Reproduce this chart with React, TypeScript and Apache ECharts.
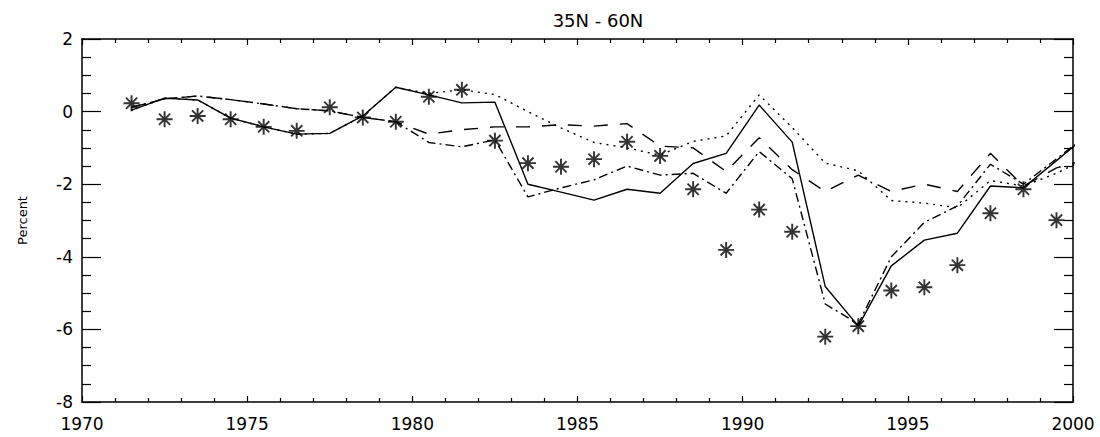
import React, { useEffect, useRef } from "react";
import * as echarts from "echarts";

// Observation years (mid-year) and observed percent anomalies (asterisks)
const obsYears = [
  1971.5, 1972.5, 1973.5, 1974.5, 1975.5, 1976.5, 1977.5, 1978.5, 1979.5, 1980.5,
  1981.5, 1982.5, 1983.5, 1984.5, 1985.5, 1986.5, 1987.5, 1988.5, 1989.5, 1990.5,
  1991.5, 1992.5, 1993.5, 1994.5, 1995.5, 1996.5, 1997.5, 1998.5, 1999.5,
];
const observed = [
  0.23, -0.21, -0.12, -0.21, -0.42, -0.53, 0.12, -0.16, -0.28, 0.41,
  0.6, -0.8, -1.42, -1.52, -1.31, -0.83, -1.22, -2.14, -3.81, -2.7,
  -3.31, -6.2, -5.91, -4.93, -4.84, -4.23, -2.8, -2.14, -2.99,
];

// Model years (mid-year); the last point lies just past the axis end
const modelYears = [
  1971.5, 1972.5, 1973.5, 1974.5, 1975.5, 1976.5, 1977.5, 1978.5, 1979.5, 1980.5,
  1981.5, 1982.5, 1983.5, 1984.5, 1985.5, 1986.5, 1987.5, 1988.5, 1989.5, 1990.5,
  1991.5, 1992.5, 1993.5, 1994.5, 1995.5, 1996.5, 1997.5, 1998.5, 1999.5, 2000.5,
];
const modelSolid = [
  0.04, 0.37, 0.32, -0.18, -0.42, -0.62, -0.6, -0.12, 0.67, 0.46,
  0.24, 0.26, -2.0, -2.22, -2.44, -2.14, -2.25, -1.43, -1.15, 0.18,
  -0.84, -4.82, -5.91, -4.25, -3.54, -3.35, -2.05, -2.1, -1.35, -0.6,
];
const modelDotted = [
  0.04, 0.37, 0.32, -0.18, -0.42, -0.62, -0.6, -0.12, 0.67, 0.5,
  0.6, 0.47, 0.0, -0.45, -0.85, -1.0, -1.2, -0.82, -0.67, 0.46,
  -0.44, -1.42, -1.63, -2.45, -2.52, -2.65, -1.9, -2.05, -1.7, -1.25,
];
const modelDashed = [
  0.12, 0.35, 0.43, 0.33, 0.21, 0.08, 0.02, -0.16, -0.28, -0.62,
  -0.5, -0.42, -0.42, -0.36, -0.4, -0.33, -0.95, -1.0, -1.65, -0.72,
  -1.6, -2.2, -1.75, -2.2, -2.0, -2.2, -1.15, -2.05, -1.55, -1.3,
];
const modelDashDot = [
  0.12, 0.35, 0.43, 0.33, 0.21, 0.08, 0.02, -0.16, -0.28, -0.85,
  -0.97, -0.78, -2.35, -2.1, -1.88, -1.5, -1.75, -1.7, -2.25, -1.1,
  -1.85, -5.3, -5.85, -4.0, -3.05, -2.6, -1.45, -2.0, -1.3, -0.6,
];

const xTicks = { min: 1970, max: 2000, interval: 5 };
const yTicks = { min: -8, max: 2, interval: 2 };

// Eight-armed asterisk marker built from thin filled bars
const asterisk =
  "path://M0 44H100V56H0Z M44 0H56V100H44Z " +
  "M10.8 19.3L19.3 10.8L89.2 80.7L80.7 89.2Z " +
  "M80.7 10.8L89.2 19.3L19.3 89.2L10.8 80.7Z";

const FONT = "'DejaVu Sans', Verdana, sans-serif";

function pairs(xs: number[], ys: number[]) {
  return xs.map((x, i) => [x, ys[i]]);
}

function lineSeries(name: string, values: number[], type: any) {
  return {
    name,
    type: "line",
    data: pairs(modelYears, values),
    symbol: "none",
    clip: true,
    lineStyle: { color: "#000", width: 1.4, type },
    z: 3,
  };
}

export default function App() {
  const ref = useRef<HTMLDivElement>(null);

  useEffect(() => {
    document.body.style.margin = "0";
    if (!ref.current) return;
    const chart = echarts.init(ref.current, null, { renderer: "svg" });

    const axisLine = { show: true, onZero: false, lineStyle: { color: "#000", width: 1.5 } };
    const xTick = { show: true, inside: true, length: 6, lineStyle: { color: "#000", width: 1.2 } };
    const xMinor = { show: true, splitNumber: 5, length: 4, lineStyle: { color: "#000", width: 1.2 } };
    const yTick = { show: true, inside: true, length: 19, lineStyle: { color: "#000", width: 1.2 } };
    const yMinor = { show: true, splitNumber: 4, length: 9, lineStyle: { color: "#000", width: 1.2 } };

    chart.setOption({
      animation: false,
      backgroundColor: "#fff",
      title: {
        text: "35N - 60N",
        left: 593,
        top: 6,
        textAlign: "center",
        textStyle: { fontFamily: FONT, fontSize: 18, fontWeight: "normal", color: "#000" },
      },
      grid: { left: 82, right: 27, top: 39, bottom: 35, containLabel: false },
      xAxis: [
        {
          type: "value",
          position: "bottom",
          ...xTicks,
          axisLine,
          axisTick: xTick,
          minorTick: xMinor,
          splitLine: { show: false },
          axisLabel: {
            color: "#000",
            fontFamily: FONT,
            fontSize: 17,
            margin: 13,
            formatter: (v: number) => String(v),
          },
        },
        {
          type: "value",
          position: "top",
          ...xTicks,
          axisLine,
          axisTick: xTick,
          minorTick: xMinor,
          splitLine: { show: false },
          axisLabel: { show: false },
        },
      ],
      yAxis: [
        {
          type: "value",
          position: "left",
          ...yTicks,
          name: "Percent",
          nameLocation: "middle",
          nameGap: 53,
          nameTextStyle: { fontFamily: FONT, fontSize: 13, color: "#000" },
          axisLine,
          axisTick: yTick,
          minorTick: yMinor,
          splitLine: { show: false },
          axisLabel: { color: "#000", fontFamily: FONT, fontSize: 17, margin: 9 },
        },
        {
          type: "value",
          position: "right",
          ...yTicks,
          axisLine,
          axisTick: yTick,
          minorTick: yMinor,
          splitLine: { show: false },
          axisLabel: { show: false },
        },
      ],
      series: [
        lineSeries("Model A", modelSolid, "solid"),
        lineSeries("Model B", modelDotted, [2, 5]),
        lineSeries("Model C", modelDashed, [14, 12]),
        lineSeries("Model D", modelDashDot, [9, 4, 2, 4]),
        {
          name: "Observed",
          type: "scatter",
          data: pairs(obsYears, observed),
          symbol: asterisk,
          symbolSize: 16,
          itemStyle: { color: "#000" },
          z: 4,
        },
      ],
    });

    return () => chart.dispose();
  }, []);

  return <div ref={ref} style={{ width: 1100, height: 437 }} />;
}
